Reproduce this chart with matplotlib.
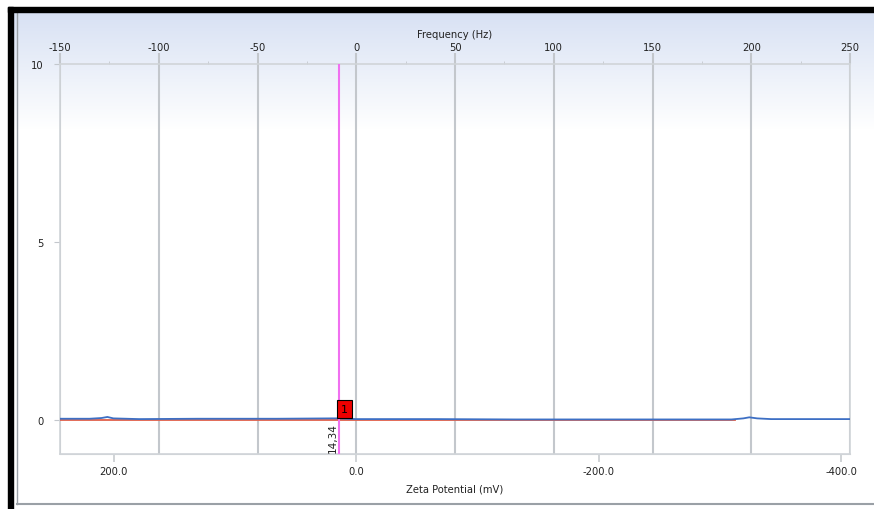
import numpy as np
import matplotlib.pyplot as plt
from matplotlib.patches import Rectangle

# data
blue_freq = [-150, -135, -129, -126, -123, -110, -80, -40, -12, -9, 0, 40, 80, 120, 160, 190, 196, 199, 203, 210, 250]
blue_int = [0.04, 0.04, 0.06, 0.09, 0.05, 0.03, 0.04, 0.04, 0.05, 0.05, 0.03, 0.03, 0.02, 0.02, 0.02, 0.02, 0.05, 0.08, 0.05, 0.03, 0.03]
red_freq = [-150, -100, -50, 0, 50, 100, 150, 192]
red_int = [0.0, 0.0, 0.0, 0.0, 0.0, 0.0, 0.0, 0.0]
peak_zeta = 14.34
peak_label = "1"
freq_ticks = [-150, -100, -50, 0, 50, 100, 150, 200, 250]
zeta_ticks = [200, 0, -200, -400]
y_ticks = [0, 5, 10]

K = 1.629  # mV per Hz
grid_col = '#c3c7cc'
txt_col = '#222222'

plt.rcParams['font.family'] = 'DejaVu Sans'
plt.rcParams['font.size'] = 7.2
plt.rcParams['axes.unicode_minus'] = False

fig = plt.figure(figsize=(8.74, 5.10), dpi=100)

# background gradient of the panel
bg = fig.add_axes([0, 0, 1, 1], zorder=-10)
grad = np.ones((510, 1, 3))
top = np.array([0.83, 0.87, 0.95])
for i in range(130):
    t = i / 130.0
    grad[i, 0] = top * (1 - t) + np.ones(3) * t
bg.imshow(grad, aspect='auto', extent=[0, 1, 0, 1])
bg.set_axis_off()
fig.patches.append(Rectangle((0, 0), 8 / 874, 1, transform=fig.transFigure, color='white', zorder=5))
fig.patches.append(Rectangle((0, 502 / 510), 1, 8 / 510, transform=fig.transFigure, color='white', zorder=5))
fig.patches.append(Rectangle((8 / 874, 0), 5 / 874, 502 / 510, transform=fig.transFigure, color='black', zorder=6))
fig.patches.append(Rectangle((8 / 874, 497 / 510), 866 / 874, 5 / 510, transform=fig.transFigure, color='black', zorder=6))
fig.lines.append(plt.Line2D([17 / 874, 17 / 874], [5 / 510, 497 / 510], transform=fig.transFigure, color='#9aa0a6', lw=1))
fig.lines.append(plt.Line2D([17 / 874, 1], [5 / 510, 5 / 510], transform=fig.transFigure, color='#9aa0a6', lw=1.5))

ax = fig.add_axes([60 / 874, 1 - 455 / 510, 790 / 874, 390 / 510])
ax.patch.set_alpha(0)
ax.set_xlim(-150, 250)
ax.set_ylim(-0.95, 10)

for f in freq_ticks:
    ax.axvline(f, color=grid_col, lw=1.5, zorder=1)

ax.plot(red_freq, red_int, color='#e0604a', lw=1.3, zorder=3)
ax.plot(blue_freq, blue_int, color='#3d6fc4', lw=1.3, zorder=4)

xp = -peak_zeta / K
ax.axvline(xp, color='#f070f0', lw=1.5, zorder=5)
ax.text(xp + 1.1, 0.17, peak_label, ha='left', va='bottom', fontsize=8, color='black', zorder=6,
        bbox=dict(boxstyle='square,pad=0.38', fc='#ee0000', ec='black', lw=0.8))
ax.text(xp - 0.5, -0.9, f"{peak_zeta:.2f}".replace('.', ','), rotation=90, ha='right', va='bottom',
        fontsize=7.5, color=txt_col, zorder=6)

ax.xaxis.tick_top()
ax.xaxis.set_label_position('top')
ax.set_xticks(freq_ticks)
ax.set_xticks(np.arange(-125, 250, 50), minor=True)
ax.set_xlabel('Frequency (Hz)', color=txt_col, labelpad=3)
ax.tick_params(axis='x', which='major', length=8, width=1.5, color=grid_col, colors=txt_col, pad=1)
ax.tick_params(axis='x', which='minor', length=2, color=grid_col)
ax.set_yticks(y_ticks)
ax.tick_params(axis='y', length=4, color=grid_col, colors=txt_col, pad=8)
ax.set_ylabel('Intensity', color=txt_col, labelpad=14)

for s in ax.spines.values():
    s.set_color('#d0d4d8')
    s.set_linewidth(1.2)

sec = ax.secondary_xaxis('bottom', functions=(lambda x: -K * x, lambda z: -z / K))
sec.set_xticks(zeta_ticks)
sec.set_xticklabels([f"{z:.1f}" for z in zeta_ticks])
sec.tick_params(length=6, width=1.2, color='#c8ccd0', colors=txt_col, pad=3)
sec.spines['bottom'].set_color('#d0d4d8')
sec.set_xlabel('Zeta Potential (mV)', color=txt_col, labelpad=5)

fig.savefig('out.png', dpi=100)
